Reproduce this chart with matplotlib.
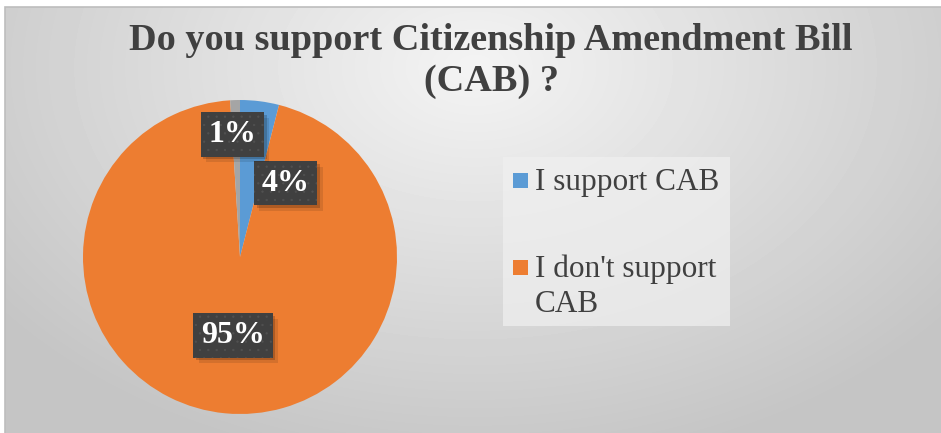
import numpy as np
import matplotlib.pyplot as plt
from matplotlib.patches import Rectangle
from matplotlib import transforms

labels = ["I support CAB", "I don't support\nCAB", "No answer"]
shares = [4, 95, 1]
colors = ["#5B9BD5", "#ED7D31", "#A5A5A5"]
title = "Do you support Citizenship Amendment Bill\n(CAB) ?"

plt.rcParams['font.family'] = ['Liberation Serif', 'DejaVu Serif']
plt.rcParams['hatch.linewidth'] = 0.4

W, H = 941, 433
fig = plt.figure(figsize=(W / 100, H / 100), dpi=100)


def px(x, y):
    # pixel position from the top-left corner -> figure fraction
    return x / W, 1 - y / H


# grey radial backdrop inside a thin frame
bg = fig.add_axes([5 / W, 0, 936 / W, 426 / H])
bg.set_axis_off()
yy, xx = np.mgrid[0:426, 0:936]
r = np.sqrt(((xx - 470) / 620.0) ** 2 + ((yy - 60) / 420.0) ** 2)
shade = np.clip(0.955 - 0.19 * r, 0.77, 0.96)
bg.imshow(shade, cmap='gray', vmin=0, vmax=1, aspect='auto', interpolation='bilinear')
fig.patches.append(Rectangle((5 / W, -0.01), 940 / W, 426 / H + 0.01,
                             transform=fig.transFigure, fill=False,
                             edgecolor='#bdbdbd', linewidth=1.2))

fig.text(*px(491, 61), title, ha='center', va='center', fontsize=27.5,
         fontweight='bold', color='#404040', linespacing=1.2)

ax = fig.add_axes([(240 - 157) / W, (H - 414) / H, 314 / W, 314 / H])
wedges, _ = ax.pie(shares, colors=colors, startangle=90, counterclock=False,
                   wedgeprops=dict(linewidth=0))
ax.set_xlim(-1, 1)
ax.set_ylim(-1, 1)
ax.set_aspect('equal')

# percentage tags, placed by hand around the slices
tag_pos = [(0.29, 0.47), (-0.045, -0.50), (-0.05, 0.78)]
for share, (x, y) in zip(shares, tag_pos):
    txt = f"{share}%"
    for k, a in [(2, 0.18), (4, 0.10)]:
        shadow = transforms.offset_copy(ax.transData, fig=fig, x=k, y=-k, units='points')
        ax.text(x, y, txt, transform=shadow, ha='center', va='center', fontsize=23,
                fontweight='bold', color='none',
                bbox=dict(boxstyle='square,pad=0.24', facecolor='black', alpha=a,
                          linewidth=0))
    ax.text(x, y, txt, ha='center', va='center', fontsize=23, fontweight='bold',
            color='white',
            bbox=dict(boxstyle='square,pad=0.24', facecolor='#404040',
                      edgecolor='#515151', hatch='..', linewidth=0))

# legend panel with a swatch next to the first line of each label
x0, y0 = px(503, 326)
fig.patches.append(Rectangle((x0, y0), 227 / W, 169 / H, transform=fig.transFigure,
                             facecolor='#f0f0f0', alpha=0.7, linewidth=0))
for lab, col, (sy, top) in zip(labels[:2], colors[:2], [(188, 168), (275, 254)]):
    sx, syf = px(513, sy)
    fig.patches.append(Rectangle((sx, syf), 15 / W, 15 / H, transform=fig.transFigure,
                                 facecolor=col, linewidth=0))
    fig.text(*px(535, top), lab, ha='left', va='top', fontsize=22.5,
             color='#404040', linespacing=1.3)

fig.savefig('out.png', dpi=100, facecolor='white')
